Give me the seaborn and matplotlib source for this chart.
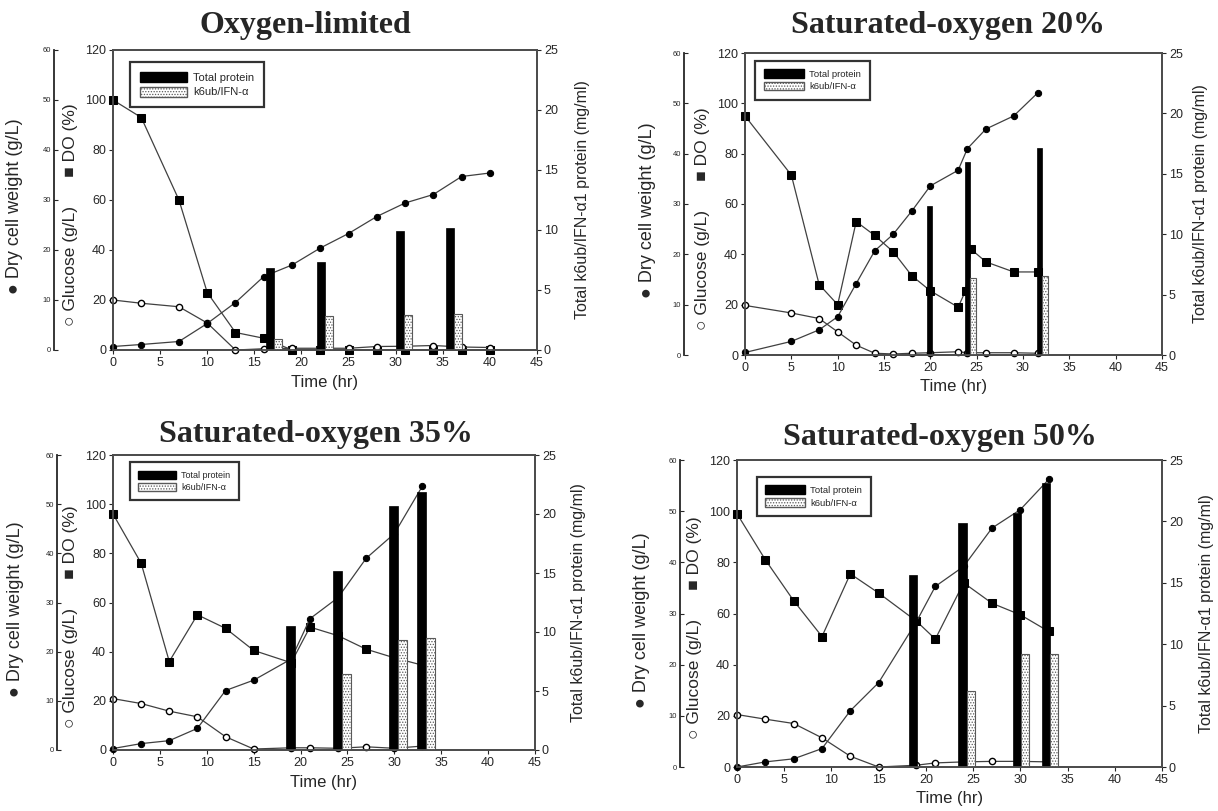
import matplotlib
matplotlib.use('Agg')
import matplotlib.pyplot as plt
import seaborn as sns
from matplotlib.patches import Patch

# ---- Oxygen-limited
ol_time = [0, 3, 7, 10, 13, 16, 19, 22, 25, 28, 31, 34, 37, 40]
ol_do = [100, 93, 60, 23, 7, 4.7, 0, 0, 0, 0, 0, 0, 0, 0]
ol_dcw = [0.7, 1.1, 1.7, 5.3, 9.5, 14.7, 17, 20.4, 23.3, 26.7, 29.4, 31.1, 34.7, 35.4]
ol_glc = [20, 18.7, 17.3, 10.8, 0, 0.5, 0.7, 0.7, 0.7, 1.4, 1.5, 1.8, 1.2, 1.0]
ol_bar_time = [17.1, 22.5, 30.9, 36.2]
ol_total = [6.8, 7.3, 9.9, 10.2]
ol_k6ub = [0.9, 2.8, 2.9, 3.0]

# ---- Saturated-oxygen 20%
s20_do_time = [0, 5, 8, 10, 12, 14, 16, 18, 20, 23, 23.8, 24.4, 26, 29, 31.6]
s20_do = [95, 71.5, 28, 20, 53, 47.5, 41, 31.5, 25.5, 19, 25.5, 42, 37, 33, 33]
s20_time = [0, 5, 8, 10, 12, 14, 16, 18, 20, 23, 24, 26, 29, 31.6]
s20_dcw = [0.5, 2.7, 5, 7.6, 14.2, 20.7, 24, 28.6, 33.6, 36.7, 41, 44.9, 47.5, 52.1]
s20_glc = [19.7, 16.7, 14.5, 9.2, 3.9, 0.7, 0.4, 0.7, 0.9, 1.3, 0.9, 0.9, 0.9, 0.7]
s20_bar_time = [20.2, 24.3, 32.1]
s20_total = [12.3, 16.0, 17.1]
s20_k6ub = [0, 6.4, 6.5]

# ---- Saturated-oxygen 35%
s35_time = [0, 3, 6, 9, 12, 15, 19, 21, 24, 27, 30, 33]
s35_do = [96, 76, 36, 55, 49.5, 40.5, 35.5, 50, 46.5, 41, 37.5, 34.5]
s35_dcw = [0.3, 1.3, 1.9, 4.4, 12.1, 14.2, 18.5, 26.7, 31, 39, 44, 53.7]
s35_glc = [20.9, 18.9, 15.8, 13.5, 5.4, 0.4, 0.9, 0.9, 0.7, 1.3, 0.7, 1.6]
s35_bar_time = [19.4, 24.4, 30.4, 33.4]
s35_total = [10.5, 15.2, 20.7, 21.9]
s35_k6ub = [0, 6.4, 9.3, 9.5]

# ---- Saturated-oxygen 50%
s50_time = [0, 3, 6, 9, 12, 15, 19, 21, 24, 27, 30, 33]
s50_do = [99, 81, 65, 51, 75.5, 68, 57, 50, 72, 64, 59.5, 53]
s50_dcw = [0, 1, 1.6, 3.6, 11, 16.5, 28.4, 35.3, 39.2, 46.7, 50.3, 56.2]
s50_glc = [20.5, 18.7, 17, 11.4, 4.2, 0, 0.7, 1.6, 2, 2.2, 2.2, 2]
s50_bar_time = [19.1, 24.3, 30.1, 33.1]
s50_total = [15.6, 19.9, 20.7, 23.1]
s50_k6ub = [0, 6.2, 9.2, 9.2]

sns.set_style('ticks')
plt.rcParams['font.family'] = ['Liberation Sans', 'DejaVu Sans']
plt.rcParams['hatch.linewidth'] = 0.6

W, H = 1218, 811
fig = plt.figure(figsize=(W / 100, H / 100), dpi=100)


def draw_panel(box, far_x, lab_x, title, title_xy, do_t, do, t, dcw, glc,
               bar_t, total, k6ub, bar_w, leg_xy, leg_fs):
    left, top, right, bottom = box
    ax = fig.add_axes([left / W, 1 - bottom / H, (right - left) / W, (bottom - top) / H])
    ax_dcw = ax.twinx()
    ax_p = ax.twinx()

    # DO and glucose on the 0-120 axis
    sns.lineplot(x=do_t, y=do, ax=ax, color='0.25', linewidth=0.9, marker='s',
                 markersize=5.5, markerfacecolor='black', markeredgecolor='black',
                 sort=False, clip_on=False, zorder=3)
    sns.lineplot(x=t, y=glc, ax=ax, color='0.25', linewidth=0.9, marker='o',
                 markersize=4.5, markerfacecolor='white', markeredgecolor='black',
                 markeredgewidth=1, sort=False, clip_on=False, zorder=3)
    # dry cell weight on the far-left 0-60 axis
    sns.lineplot(x=t, y=dcw, ax=ax_dcw, color='0.25', linewidth=0.9, marker='o',
                 markersize=4.5, markerfacecolor='black', markeredgecolor='black',
                 sort=False, clip_on=False, zorder=3)
    # protein bars on the right axis
    ax_p.bar([x - bar_w / 2 for x in bar_t], total, width=bar_w, color='black',
             edgecolor='black', linewidth=0.5, label='Total protein')
    ax_p.bar([x + bar_w / 2 for x in bar_t], k6ub, width=bar_w, color='white',
             edgecolor='0.35', hatch='......', linewidth=0.8, label='k6ub/IFN-\u03b1')

    ax.set_xlim(0, 45)
    ax.set_ylim(0, 120)
    ax_dcw.set_ylim(0, 60)
    ax_p.set_ylim(0, 25)
    ax.set_xticks(range(0, 46, 5))
    ax.set_yticks(range(0, 121, 20))
    ax_dcw.set_yticks(range(0, 61, 10))
    ax_p.set_yticks(range(0, 26, 5))

    ax.tick_params(axis='both', direction='out', length=3, labelsize=9, pad=2)
    ax_p.tick_params(axis='y', direction='out', length=3, labelsize=9, pad=2)

    # far-left dry cell weight spine
    ax_dcw.yaxis.tick_left()
    ax_dcw.spines['left'].set_position(('axes', -(left - far_x) / (right - left)))
    for s in ['right', 'top', 'bottom']:
        ax_dcw.spines[s].set_visible(False)
    ax_dcw.spines['left'].set_linewidth(1.3)
    ax_dcw.tick_params(axis='y', direction='in', length=3, labelsize=5.5, pad=2)

    for a in (ax, ax_p):
        for s in a.spines.values():
            s.set_color('0.3')
            s.set_linewidth(1.3)

    ax.set_xlabel('Time (hr)', fontsize=12, labelpad=4)
    ax.set_ylabel('')
    ax_dcw.set_ylabel('')

    cy = 1 - (top + bottom) / 2 / H
    fig.text(lab_x[0] / W, cy - 0.008, '\u25cf Dry cell weight (g/L)', rotation=90,
             ha='center', va='center', fontsize=13)
    fig.text(lab_x[1] / W, cy - 0.018, '\u25cb Glucose (g/L)      \u25a0 DO (%)', rotation=90,
             ha='center', va='center', fontsize=12.5)
    fig.text(lab_x[2] / W, cy, 'Total k6ub/IFN-\u03b11 protein (mg/ml)', rotation=90,
             ha='center', va='center', fontsize=11.5)
    fig.text(title_xy[0] / W, 1 - title_xy[1] / H, title, ha='center', va='center',
             fontsize=23, fontweight='bold', family=['Liberation Serif', 'DejaVu Serif'])

    handles = [Patch(facecolor='black', edgecolor='black', label='Total protein'),
               Patch(facecolor='white', edgecolor='0.35', hatch='......', label='k6ub/IFN-\u03b1')]
    leg = ax_p.legend(handles=handles, loc='upper left', bbox_to_anchor=leg_xy,
                      fontsize=leg_fs, frameon=True, fancybox=False, handlelength=4.2,
                      handleheight=1.0, borderpad=0.9, labelspacing=0.35, handletextpad=0.6,
                      borderaxespad=0)
    leg.get_frame().set_edgecolor('black')
    leg.get_frame().set_linewidth(1.6)


draw_panel((113, 50, 537, 350), 54, (15, 70, 583), 'Oxygen-limited', (305, 25),
           ol_time, ol_do, ol_time, ol_dcw, ol_glc,
           ol_bar_time, ol_total, ol_k6ub, 0.85, (0.04, 0.96), 8)
draw_panel((745, 53, 1162, 355), 684, (648, 702, 1201), 'Saturated-oxygen 20%', (948, 26),
           s20_do_time, s20_do, s20_time, s20_dcw, s20_glc,
           s20_bar_time, s20_total, s20_k6ub, 0.6, (0.025, 0.975), 6.8)
draw_panel((113, 455, 535, 750), 57, (16, 71, 578), 'Saturated-oxygen 35%', (316, 434),
           s35_time, s35_do, s35_time, s35_dcw, s35_glc,
           s35_bar_time, s35_total, s35_k6ub, 0.95, (0.04, 0.975), 6.5)
draw_panel((737, 460, 1162, 767), 680, (641, 694, 1206), 'Saturated-oxygen 50%', (940, 437),
           s50_time, s50_do, s50_time, s50_dcw, s50_glc,
           s50_bar_time, s50_total, s50_k6ub, 0.85, (0.046, 0.945), 6.8)

fig.savefig('out.png', dpi=100, facecolor='white')
